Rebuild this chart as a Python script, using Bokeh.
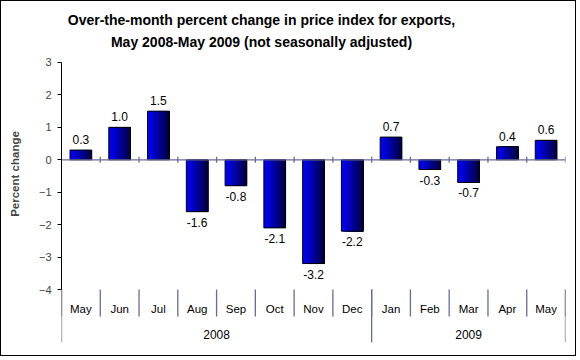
import numpy as np
from bokeh.plotting import figure
from bokeh.models import LinearAxis, FixedTicker, Range1d
from bokeh.core.properties import value
from bokeh.embed import file_html
from bokeh.resources import INLINE

# ---- data ----
months = ["May", "Jun", "Jul", "Aug", "Sep", "Oct", "Nov", "Dec",
          "Jan", "Feb", "Mar", "Apr", "May"]
years = ["2008"] * 8 + ["2009"] * 5
values = [0.3, 1.0, 1.5, -1.6, -0.8, -2.1, -3.2, -2.2, 0.7, -0.3, -0.7, 0.4, 0.6]
y_ticks = [-4, -3, -2, -1, 0, 1, 2, 3]
title_lines = ["Over-the-month percent change in price index for exports,",
               "May 2008-May 2009 (not seasonally adjusted)"]
y_label = "Percent change"

# ---- layout constants ----
FONT = "Liberation Sans"
SEP = "#6a6a9c"
n = len(values)
Y_AXIS_MIN, Y_AXIS_MAX = -4, 3
UNIT = 32.43                       # px per percent point
Y_TOP = 3 + 57 / UNIT
Y_BOTTOM = -4 - 53 / UNIT
MONTH_SEP_BOTTOM = -4 - 27 / UNIT
MONTH_LABEL_Y = -4 - 19 / UNIT
YEAR_LABEL_Y = -4 - 45 / UNIT
TITLE_Y = [3 + 42 / UNIT, 3 + 20 / UNIT]
TITLE_X = 200 / 38.77
TICK_HALF = 3 / UNIT

p = figure(width=576, height=356, output_backend="svg", toolbar_location=None,
           x_range=Range1d(0, n), y_range=Range1d(Y_BOTTOM, Y_TOP),
           x_axis_type=None, y_axis_type=None,
           min_border_left=60, min_border_right=12, min_border_top=4,
           min_border_bottom=15)
p.styles = {"border": "1px solid black"}
p.outline_line_color = None
p.grid.visible = False
p.background_fill_color = "white"
p.border_fill_color = "white"

# title (two centred lines)
p.text(x=[TITLE_X] * len(title_lines), y=TITLE_Y, text=title_lines,
       text_align="center", text_baseline="middle", text_font=value(FONT),
       text_font_size="14px", text_font_style="bold", text_color="black")

# y axis
yax = LinearAxis(ticker=FixedTicker(ticks=y_ticks), bounds=(Y_AXIS_MIN, Y_AXIS_MAX))
yax.axis_line_color = "black"
yax.major_tick_line_color = "black"
yax.major_tick_in = 0
yax.major_tick_out = 4
yax.minor_tick_line_color = None
yax.major_label_text_font = FONT
yax.major_label_text_font_size = "11px"
yax.major_label_standoff = 6
yax.axis_label = y_label
yax.axis_label_text_font = FONT
yax.axis_label_text_font_size = "11.5px"
yax.axis_label_text_font_style = "bold"
yax.axis_label_standoff = 15
p.add_layout(yax, "left")

# bars with horizontal gradient (left-anchored overlapping slices)
x = np.arange(n) + 0.5
vals = np.array(values)
bw = 0.56
N = 24
c0 = np.array([0, 0, 255])
c1 = np.array([0, 0, 64])
left = x - bw / 2
right = x + bw / 2
xs, ws, tops, cols = [], [], [], []
for k in range(N):
    t = k / (N - 1)
    c = np.round(c0 * (1 - t) + c1 * t).astype(int)
    col = "#%02x%02x%02x" % tuple(c)
    l = left + k * bw / N
    xs.extend((l + right) / 2)
    ws.extend(right - l)
    tops.extend(vals)
    cols.extend([col] * n)
p.vbar(x=xs, top=tops, bottom=0, width=ws, fill_color=cols, line_color=None)
p.vbar(x=x, top=vals, bottom=0, width=bw, fill_color=None, line_color="black", line_width=1)

# zero line with ticks at category boundaries
bounds = np.arange(n + 1)
p.segment(x0=[0], y0=[0], x1=[n], y1=[0], line_color=SEP, line_width=1.3)
p.segment(x0=bounds[1:], y0=[-TICK_HALF] * n, x1=bounds[1:], y1=[TICK_HALF] * n,
          line_color=SEP, line_width=1.3)

# value labels
pos = vals >= 0
lbl = ["%.1f" % v for v in vals]
p.text(x=x[pos], y=vals[pos], text=[l for l, q in zip(lbl, pos) if q],
       text_align="center", text_baseline="bottom", y_offset=-6,
       text_font=value(FONT), text_font_size="12px", text_color="black")
p.text(x=x[~pos], y=vals[~pos], text=[l for l, q in zip(lbl, pos) if not q],
       text_align="center", text_baseline="top", y_offset=6,
       text_font=value(FONT), text_font_size="12px", text_color="black")

# category labels and separators
p.segment(x0=bounds, y0=[Y_AXIS_MIN] * (n + 1), x1=bounds, y1=[MONTH_SEP_BOTTOM] * (n + 1),
          line_color=SEP, line_width=1.3)
p.text(x=x, y=[MONTH_LABEL_Y] * n, text=months, text_align="center",
       text_baseline="middle", text_font=value(FONT), text_font_size="11.5px",
       text_color="black")
groups = []
for i, yv in enumerate(years):
    if not groups or groups[-1][0] != yv:
        groups.append([yv, i, i + 1])
    else:
        groups[-1][2] = i + 1
ybounds = sorted(set([g[1] for g in groups] + [g[2] for g in groups]))
p.segment(x0=ybounds, y0=[Y_AXIS_MIN] * len(ybounds), x1=ybounds,
          y1=[Y_BOTTOM] * len(ybounds), line_color=SEP, line_width=1.3)
p.text(x=[(g[1] + g[2]) / 2 for g in groups], y=[YEAR_LABEL_Y] * len(groups),
       text=[g[0] for g in groups], text_align="center", text_baseline="middle",
       text_font=value(FONT), text_font_size="12px", text_color="black")

open("out.html", "w").write(file_html(p, INLINE))
